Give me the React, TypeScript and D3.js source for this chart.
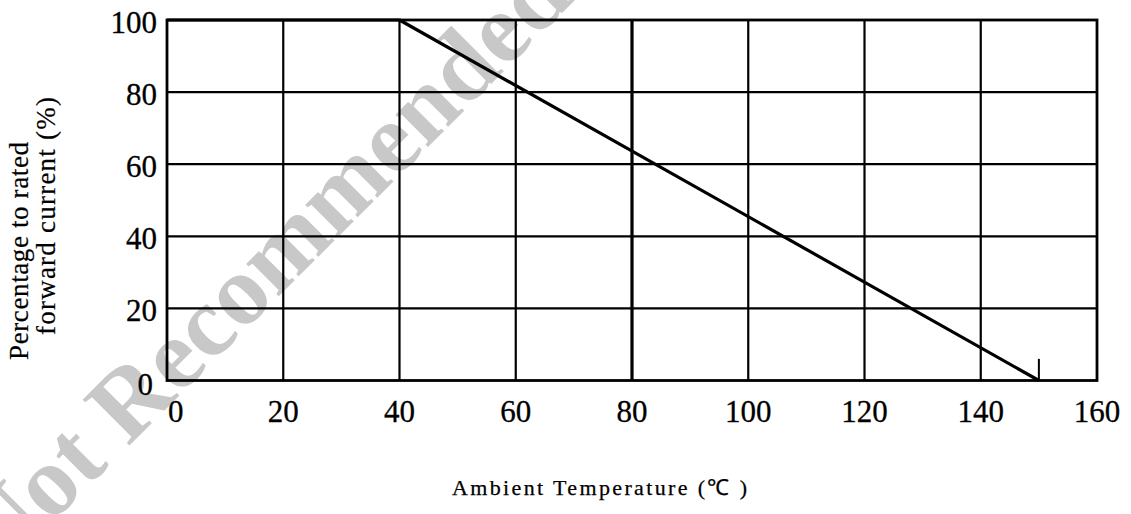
import { useEffect, useRef } from 'react'
import * as d3 from 'd3'

const WIDTH = 1131
const HEIGHT = 514

const xTicks = [0, 20, 40, 60, 80, 100, 120, 140, 160]
const yTicks = [0, 20, 40, 60, 80, 100]

// derating curve: flat at 100% until 40 degC, then linear down to 0 at 150 degC
const curveTemp = [0, 40, 150]
const curvePct = [100, 100, 0]

// small vertical mark at the end of the curve
const markTemp = 150
const markPct = [0, 6]

const yTitleLines = ['Percentage to rated', 'forward current  (%)']
const xTitle = 'Ambient Temperature (\u2103 )'
const watermark = 'Not Recommended for New Design'

const SERIF = '"Liberation Serif", "Times New Roman", serif'

export default function App() {
  const svgRef = useRef<SVGSVGElement | null>(null)

  useEffect(() => {
    if (!svgRef.current) {
      return
    }

    const svg = d3.select(svgRef.current)
    svg.selectAll('*').remove()

    const x = d3.scaleLinear().domain([0, 160]).range([167, 1097])
    const y = d3.scaleLinear().domain([0, 100]).range([380.5, 20])

    svg.append('rect').attr('width', WIDTH).attr('height', HEIGHT).attr('fill', '#ffffff')

    // grey watermark behind everything, runs off the top edge like the scan
    svg
      .append('text')
      .attr('transform', 'translate(0, 575) rotate(-45)')
      .attr('font-family', SERIF)
      .attr('font-weight', 700)
      .attr('font-size', 100)
      .attr('fill', '#c8c8c8')
      .text(watermark)

    const grid = svg.append('g').attr('stroke', '#000').attr('fill', 'none')

    grid
      .selectAll('line.v-grid')
      .data(xTicks.slice(1, -1))
      .enter()
      .append('line')
      .attr('class', 'v-grid')
      .attr('x1', (d: number) => x(d))
      .attr('x2', (d: number) => x(d))
      .attr('y1', y(0))
      .attr('y2', y(100))
      .attr('stroke-width', (d: number) => (d === 80 ? 3.2 : 2.2))

    grid
      .selectAll('line.h-grid')
      .data(yTicks.slice(1, -1))
      .enter()
      .append('line')
      .attr('class', 'h-grid')
      .attr('x1', x(0))
      .attr('x2', x(160))
      .attr('y1', (d: number) => y(d))
      .attr('y2', (d: number) => y(d))
      .attr('stroke-width', 2.2)

    grid
      .append('rect')
      .attr('x', x(0))
      .attr('y', y(100))
      .attr('width', x(160) - x(0))
      .attr('height', y(0) - y(100))
      .attr('stroke-width', 2.8)

    const line = d3
      .line<number>()
      .x((d: number) => x(d))
      .y((_: number, i: number) => y(curvePct[i]))

    svg
      .append('path')
      .datum(curveTemp)
      .attr('d', line)
      .attr('fill', 'none')
      .attr('stroke', '#000')
      .attr('stroke-width', 3.2)
      .attr('stroke-linejoin', 'round')

    svg
      .append('line')
      .attr('x1', x(markTemp))
      .attr('x2', x(markTemp))
      .attr('y1', y(markPct[0]))
      .attr('y2', y(markPct[1]))
      .attr('stroke', '#000')
      .attr('stroke-width', 2)

    svg
      .selectAll('text.y-tick')
      .data(yTicks)
      .enter()
      .append('text')
      .attr('class', 'y-tick')
      .attr('x', (d: number) => (d === 0 ? 153 : 157))
      .attr('y', (d: number) => y(d) + (d === 0 ? 14 : 13))
      .attr('text-anchor', 'end')
      .attr('font-family', SERIF)
      .attr('font-size', 31)
      .attr('fill', '#000')
      .attr('stroke', '#000')
      .attr('stroke-width', 0.3)
      .text((d: number) => String(d))

    svg
      .selectAll('text.x-tick')
      .data(xTicks)
      .enter()
      .append('text')
      .attr('class', 'x-tick')
      .attr('x', (d: number) => (d === 0 ? x(d) + 1 : x(d)))
      .attr('y', 422)
      .attr('text-anchor', (d: number) => (d === 0 ? 'start' : 'middle'))
      .attr('font-family', SERIF)
      .attr('font-size', 31)
      .attr('fill', '#000')
      .attr('stroke', '#000')
      .attr('stroke-width', 0.3)
      .text((d: number) => String(d))

    svg
      .append('text')
      .attr('x', 452)
      .attr('y', 495)
      .attr('textLength', 295)
      .attr('lengthAdjust', 'spacing')
      .attr('font-family', SERIF)
      .attr('font-size', 22)
      .attr('fill', '#000')
      .attr('stroke', '#000')
      .attr('stroke-width', 0.25)
      .text(xTitle)

    const yTitlePos = [
      { x: 28, y: 360, len: 218 },
      { x: 55, y: 335, len: 238 },
    ]

    svg
      .selectAll('text.y-title')
      .data(yTitleLines)
      .enter()
      .append('text')
      .attr('class', 'y-title')
      .attr('transform', (_: string, i: number) => `translate(${yTitlePos[i].x}, ${yTitlePos[i].y}) rotate(-90)`)
      .attr('textLength', (_: string, i: number) => yTitlePos[i].len)
      .attr('lengthAdjust', 'spacing')
      .attr('font-family', SERIF)
      .attr('font-size', 27)
      .attr('fill', '#000')
      .attr('stroke', '#000')
      .attr('stroke-width', 0.2)
      .text((d: string) => d)
  }, [])

  return (
    <svg
      ref={svgRef}
      width={WIDTH}
      height={HEIGHT}
      style={{ position: 'absolute', left: 0, top: 0 }}
      role="img"
      aria-label="Forward current derating curve versus ambient temperature"
    />
  )
}
